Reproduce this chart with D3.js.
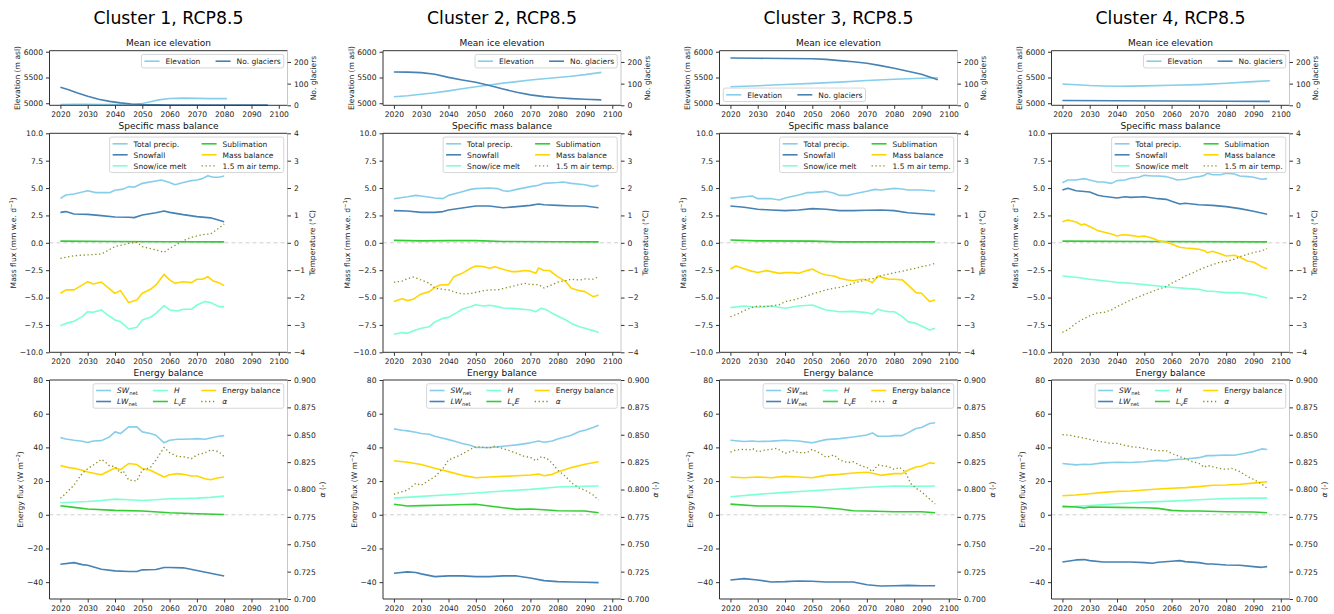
<!DOCTYPE html>
<html>
<head>
<meta charset="utf-8">
<title>Clusters RCP8.5</title>
<script src="https://d3js.org/d3.v7.min.js"></script>
<style>
  body { margin: 0; background: #fff; }
  text { font-family: "DejaVu Sans", sans-serif; }
</style>
</head>
<body>
<div id="chart"></div>
<script>
// ---- tick values ----
const xTicks = [2020, 2030, 2040, 2050, 2060, 2070, 2080, 2090, 2100];
const elevTicks = [5000, 5500, 6000];
const glacTicks = [0, 100, 200];
const massTicks = [-10, -7.5, -5, -2.5, 0, 2.5, 5, 7.5, 10];
const tempTicks = [-4, -3, -2, -1, 0, 1, 2, 3, 4];
const fluxTicks = [-40, -20, 0, 20, 40, 60, 80];
const albTicks = [0.7, 0.725, 0.75, 0.775, 0.8, 0.825, 0.85, 0.875, 0.9];

const titles = ["Cluster 1, RCP8.5", "Cluster 2, RCP8.5", "Cluster 3, RCP8.5", "Cluster 4, RCP8.5"];

// ---- cluster 1 ----
const c1_elev = [[2020,4975],[2025,4977],[2030,4977],[2035,4975],[2040,4974],[2045,4975],[2048,4980],[2050,4995],[2053,5030],[2056,5065],[2060,5092],[2065,5100],[2070,5095],[2075,5090],[2081,5090]];
const c1_glac = [[2020,83],[2023,72],[2026,58],[2030,42],[2034,28],[2038,18],[2042,11],[2046,6],[2050,3],[2055,2],[2060,1],[2070,1],[2080,1],[2096,1]];
const c1_precip = [[2020,4.06],[2022,4.37],[2025,4.46],[2030,4.76],[2033,4.58],[2035,4.58],[2038,4.58],[2040,4.8],[2043,4.9],[2045,5.13],[2047,5.07],[2050,5.43],[2052,5.52],[2055,5.65],[2057,5.74],[2060,5.5],[2062,5.3],[2065,5.5],[2068,5.68],[2070,5.74],[2072,5.86],[2074,6.13],[2076,5.98],[2078,5.98],[2080,6.1]];
const c1_snow = [[2020,2.78],[2022,2.85],[2025,2.63],[2030,2.6],[2035,2.48],[2040,2.36],[2045,2.33],[2047,2.3],[2050,2.54],[2055,2.75],[2058,2.9],[2060,2.78],[2065,2.57],[2070,2.39],[2075,2.28],[2080,1.93]];
const c1_melt = [[2020,-7.57],[2022,-7.36],[2025,-7.17],[2028,-6.74],[2030,-6.29],[2032,-6.35],[2035,-6.13],[2037,-6.53],[2040,-7.05],[2042,-7.2],[2045,-7.87],[2048,-7.72],[2050,-7.05],[2053,-6.8],[2055,-6.44],[2058,-5.74],[2060,-6.13],[2063,-6.23],[2065,-6.07],[2068,-6.07],[2070,-5.68],[2073,-5.37],[2075,-5.46],[2078,-5.83],[2080,-5.83]];
const c1_subl = [[2020,0.15],[2040,0.12],[2060,0.1],[2080,0.08]];
const c1_mb = [[2020,-4.61],[2022,-4.3],[2025,-4.3],[2027,-4.0],[2030,-3.55],[2032,-3.76],[2035,-3.58],[2037,-4.0],[2040,-4.61],[2042,-4.37],[2045,-5.46],[2048,-5.22],[2050,-4.61],[2053,-4.25],[2055,-3.85],[2058,-2.88],[2060,-3.39],[2062,-3.7],[2065,-3.55],[2068,-3.64],[2070,-3.33],[2072,-3.33],[2074,-3.09],[2076,-3.49],[2078,-3.64],[2080,-3.91]];
const c1_temp = [[2020,-0.57],[2025,-0.47],[2030,-0.44],[2035,-0.41],[2040,-0.14],[2045,-0.02],[2048,0.02],[2050,-0.14],[2055,-0.26],[2058,-0.35],[2060,-0.2],[2063,-0.04],[2065,0.08],[2068,0.2],[2070,0.25],[2073,0.31],[2075,0.32],[2078,0.53],[2080,0.69]];
const c1_sw = [[2020,45.8],[2022,45],[2025,44.2],[2028,43.6],[2030,42.9],[2032,43.8],[2035,44],[2038,46.2],[2040,49.2],[2042,48.2],[2045,52.2],[2048,52.2],[2050,49.2],[2053,48.2],[2055,47.2],[2058,42.7],[2060,44.2],[2063,44.8],[2065,44.8],[2068,45],[2070,45.2],[2073,44.8],[2075,45.6],[2078,46.6],[2080,47]];
const c1_lw = [[2020,-29.4],[2025,-28.4],[2028,-29.6],[2030,-30],[2035,-32.3],[2040,-33.3],[2045,-33.7],[2048,-33.7],[2050,-32.7],[2055,-32.5],[2058,-31.3],[2060,-31.3],[2065,-31.5],[2070,-33.1],[2075,-34.7],[2080,-36.3]];
const c1_h = [[2020,7.1],[2030,7.9],[2035,8.5],[2040,9.3],[2045,8.9],[2050,8.5],[2055,8.9],[2060,9.5],[2065,9.7],[2070,9.9],[2075,10.3],[2080,11.1]];
const c1_le = [[2020,5.4],[2025,4.4],[2030,3.4],[2040,2.6],[2050,2.2],[2060,1.2],[2070,0.6],[2080,0.2]];
const c1_eb = [[2020,29.2],[2023,28],[2025,27.6],[2028,26.4],[2030,25.4],[2033,24.4],[2035,23.8],[2037,25.4],[2040,27.8],[2042,26.8],[2045,30.4],[2048,29.8],[2050,27.4],[2053,26.4],[2055,24.8],[2058,22.4],[2060,23.8],[2063,24.4],[2065,24],[2068,23],[2070,23],[2073,21.4],[2075,20.8],[2078,22],[2080,22.4]];
const c1_alb = [[2020,0.792],[2022,0.7965],[2025,0.8041],[2028,0.8148],[2030,0.819],[2033,0.8239],[2035,0.8276],[2037,0.8239],[2038,0.8215],[2040,0.8209],[2042,0.815],[2043,0.817],[2045,0.8087],[2048,0.8078],[2050,0.8178],[2053,0.8202],[2055,0.827],[2058,0.8385],[2060,0.8336],[2063,0.83],[2065,0.83],[2068,0.8282],[2070,0.8315],[2073,0.8336],[2075,0.836],[2078,0.8345],[2080,0.83]];

// ---- cluster 2 ----
const c2_elev = [[2020,5125],[2025,5145],[2030,5175],[2035,5205],[2040,5240],[2045,5280],[2050,5320],[2055,5355],[2060,5390],[2065,5420],[2070,5450],[2075,5475],[2080,5500],[2085,5525],[2090,5555],[2096,5600]];
const c2_glac = [[2020,154],[2025,153],[2030,151],[2035,143],[2040,129],[2045,117],[2050,106],[2055,91],[2060,75],[2065,60],[2070,48],[2075,40],[2080,35],[2085,31],[2090,28],[2096,25]];
const c2_precip = [[2020,4.03],[2025,4.2],[2028,4.33],[2030,4.27],[2035,4.09],[2038,4.03],[2040,4.33],[2045,4.67],[2048,4.88],[2050,4.95],[2055,5.0],[2058,4.95],[2060,4.76],[2062,4.7],[2065,4.88],[2070,5.13],[2073,5.25],[2075,5.43],[2080,5.5],[2082,5.55],[2085,5.43],[2090,5.3],[2093,5.13],[2095,5.25]];
const c2_snow = [[2020,2.94],[2025,2.9],[2030,2.78],[2035,2.78],[2038,2.85],[2040,3.0],[2045,3.18],[2050,3.36],[2055,3.36],[2060,3.2],[2065,3.3],[2070,3.42],[2073,3.55],[2075,3.48],[2080,3.42],[2085,3.36],[2090,3.36],[2095,3.2]];
const c2_melt = [[2020,-8.36],[2023,-8.2],[2025,-8.27],[2028,-7.96],[2030,-7.81],[2033,-7.66],[2035,-7.23],[2038,-6.9],[2040,-6.81],[2043,-6.38],[2045,-6.07],[2048,-5.83],[2050,-5.65],[2053,-5.77],[2055,-5.71],[2058,-5.83],[2060,-5.95],[2065,-6.01],[2070,-6.13],[2072,-6.29],[2074,-5.98],[2076,-6.13],[2078,-6.44],[2080,-6.68],[2083,-7.05],[2085,-7.36],[2088,-7.66],[2090,-7.81],[2093,-8.02],[2095,-8.2]];
const c2_subl = [[2020,0.22],[2030,0.18],[2040,0.2],[2050,0.2],[2060,0.12],[2080,0.1],[2095,0.08]];
const c2_mb = [[2020,-5.37],[2023,-5.1],[2025,-5.28],[2027,-5.16],[2030,-4.67],[2033,-4.46],[2035,-4.06],[2037,-3.85],[2040,-3.82],[2042,-3.09],[2045,-2.79],[2048,-2.33],[2050,-2.12],[2053,-2.18],[2055,-2.33],[2057,-2.18],[2060,-2.42],[2063,-2.63],[2065,-2.63],[2068,-2.53],[2070,-2.59],[2072,-2.79],[2073,-2.3],[2075,-2.53],[2077,-2.53],[2080,-3.09],[2083,-3.55],[2085,-4.16],[2088,-4.37],[2090,-4.46],[2093,-4.92],[2095,-4.77]];
const c2_temp = [[2020,-1.44],[2023,-1.4],[2025,-1.31],[2027,-1.25],[2030,-1.36],[2033,-1.48],[2035,-1.66],[2038,-1.7],[2040,-1.72],[2043,-1.82],[2045,-1.87],[2048,-1.85],[2050,-1.81],[2053,-1.75],[2055,-1.72],[2058,-1.72],[2060,-1.67],[2063,-1.6],[2065,-1.55],[2068,-1.48],[2070,-1.52],[2073,-1.53],[2075,-1.65],[2078,-1.53],[2080,-1.44],[2083,-1.38],[2085,-1.33],[2088,-1.36],[2090,-1.32],[2093,-1.33],[2095,-1.24]];
const c2_sw = [[2020,51],[2023,50.2],[2025,49.8],[2028,49],[2030,48.2],[2033,47.8],[2035,46.6],[2038,45.4],[2040,44.6],[2043,43.3],[2045,42.3],[2048,41.3],[2050,39.9],[2055,39.9],[2058,40.3],[2060,40.7],[2065,41.5],[2070,42.7],[2073,43.8],[2075,43],[2078,43.8],[2080,45],[2085,47.2],[2088,49.4],[2090,50.2],[2093,51.8],[2095,53.2]];
const c2_lw = [[2020,-34.7],[2025,-33.9],[2028,-34.3],[2030,-35.1],[2035,-36.7],[2040,-36.3],[2045,-36.3],[2050,-36.7],[2055,-36.7],[2060,-36.3],[2065,-36.3],[2070,-37.5],[2075,-39.1],[2080,-39.7],[2085,-39.9],[2090,-40.1],[2095,-40.3]];
const c2_h = [[2020,9.9],[2030,10.9],[2040,11.9],[2050,12.9],[2060,14.1],[2070,15.1],[2080,16.5],[2090,16.9],[2095,17.1]];
const c2_le = [[2020,6.2],[2025,5.2],[2030,5.4],[2040,5.8],[2050,6.2],[2055,5.2],[2060,4.2],[2065,3.2],[2070,3.4],[2075,3.0],[2080,2.4],[2090,2.2],[2095,1.2]];
const c2_eb = [[2020,32.1],[2025,31.2],[2030,29.8],[2035,27.6],[2038,26.4],[2040,25.6],[2045,23.4],[2050,22],[2055,22.4],[2060,22.8],[2065,23.2],[2070,23.6],[2073,24.2],[2075,23.2],[2078,24],[2080,25.4],[2085,28],[2090,30],[2095,31.5]];
const c2_alb = [[2020,0.7956],[2023,0.798],[2025,0.7995],[2028,0.8056],[2030,0.8038],[2033,0.8087],[2035,0.8117],[2038,0.8193],[2040,0.827],[2043,0.83],[2045,0.8324],[2048,0.8367],[2050,0.8391],[2053,0.8385],[2055,0.8379],[2057,0.8397],[2060,0.8373],[2063,0.8349],[2065,0.833],[2068,0.83],[2070,0.8294],[2072,0.8263],[2074,0.83],[2076,0.8285],[2078,0.8239],[2080,0.8178],[2083,0.8117],[2085,0.8062],[2088,0.8011],[2090,0.7995],[2093,0.795],[2095,0.7904]];

// ---- cluster 3 ----
const c3_elev = [[2020,5320],[2030,5340],[2040,5365],[2050,5385],[2060,5410],[2070,5440],[2080,5465],[2090,5485],[2096,5495]];
const c3_glac = [[2020,218],[2030,217],[2040,216],[2050,215],[2055,212],[2060,206],[2065,201],[2070,194],[2075,183],[2080,171],[2085,157],[2090,143],[2096,118]];
const c3_precip = [[2020,4.06],[2025,4.21],[2028,4.27],[2030,4.03],[2035,4.03],[2038,3.91],[2040,4.09],[2045,4.37],[2048,4.58],[2050,4.58],[2055,4.7],[2058,4.52],[2060,4.33],[2063,4.33],[2065,4.46],[2070,4.7],[2073,4.88],[2075,4.82],[2080,4.97],[2083,4.91],[2085,4.82],[2090,4.82],[2095,4.73]];
const c3_snow = [[2020,3.36],[2025,3.24],[2030,3.06],[2035,3.0],[2040,2.94],[2045,3.0],[2050,3.12],[2055,3.06],[2060,2.94],[2065,2.94],[2070,2.97],[2075,3.0],[2080,2.94],[2085,2.75],[2090,2.66],[2095,2.57]];
const c3_melt = [[2020,-5.92],[2025,-5.77],[2030,-5.89],[2035,-5.77],[2040,-5.98],[2045,-5.77],[2050,-5.68],[2055,-6.13],[2060,-6.29],[2065,-6.26],[2070,-6.38],[2072,-6.5],[2074,-6.07],[2076,-6.2],[2078,-6.29],[2080,-6.29],[2083,-6.74],[2085,-7.2],[2088,-7.36],[2090,-7.6],[2093,-7.96],[2095,-7.81]];
const c3_subl = [[2020,0.25],[2030,0.18],[2050,0.15],[2060,0.08],[2095,0.08]];
const c3_mb = [[2020,-2.39],[2022,-2.12],[2025,-2.36],[2027,-2.54],[2030,-2.72],[2033,-2.54],[2035,-2.63],[2038,-2.79],[2040,-2.72],[2043,-2.72],[2045,-2.79],[2048,-2.54],[2050,-2.39],[2053,-2.79],[2055,-2.94],[2058,-3.03],[2060,-3.24],[2063,-3.39],[2065,-3.46],[2068,-3.33],[2070,-3.39],[2072,-3.64],[2074,-3.03],[2076,-3.18],[2078,-3.33],[2080,-3.33],[2083,-3.39],[2085,-3.85],[2088,-4.55],[2090,-4.61],[2093,-5.37],[2095,-5.22]];
const c3_temp = [[2020,-2.7],[2023,-2.58],[2025,-2.48],[2028,-2.36],[2030,-2.31],[2033,-2.33],[2035,-2.31],[2038,-2.26],[2040,-2.15],[2043,-2.09],[2045,-2.03],[2048,-1.94],[2050,-1.87],[2053,-1.78],[2055,-1.72],[2058,-1.66],[2060,-1.63],[2063,-1.55],[2065,-1.48],[2068,-1.4],[2070,-1.33],[2073,-1.3],[2075,-1.21],[2078,-1.14],[2080,-1.09],[2083,-1.04],[2085,-0.99],[2088,-0.93],[2090,-0.87],[2093,-0.81],[2095,-0.75]];
const c3_sw = [[2020,44.2],[2025,43.5],[2028,43.8],[2030,43.5],[2035,43.7],[2040,44.2],[2045,43.8],[2050,42.7],[2055,44.6],[2060,45.2],[2065,46.2],[2070,47.4],[2072,48.6],[2074,46.6],[2078,46.6],[2080,47],[2083,47],[2085,48.6],[2088,51.2],[2090,51.8],[2093,54.2],[2095,54.6]];
const c3_lw = [[2020,-38.7],[2025,-37.9],[2030,-38.7],[2035,-39.9],[2040,-39.7],[2045,-39.3],[2050,-39.5],[2055,-39.9],[2060,-39.9],[2065,-39.9],[2070,-41.5],[2075,-42.3],[2080,-42.1],[2085,-41.9],[2090,-42.1],[2095,-42.1]];
const c3_h = [[2020,10.7],[2030,12.1],[2040,13.3],[2050,14.3],[2060,15.3],[2070,16.3],[2080,17.1],[2090,16.9],[2095,17.1]];
const c3_le = [[2020,6.3],[2030,5.2],[2040,5.2],[2050,4.8],[2055,4.2],[2060,3.4],[2065,2.4],[2070,2.2],[2080,1.8],[2090,1.8],[2095,1.2]];
const c3_eb = [[2020,22.4],[2025,22],[2030,22.4],[2035,22],[2040,22.8],[2045,22.4],[2050,22],[2055,23.4],[2060,24],[2065,24.8],[2070,25.2],[2073,24.4],[2075,23.4],[2080,24.4],[2083,24.4],[2085,26.4],[2088,28.4],[2090,28.8],[2093,30.8],[2095,30.4]];
const c3_alb = [[2020,0.8342],[2022,0.8361],[2025,0.8367],[2027,0.8361],[2028,0.8376],[2030,0.8345],[2033,0.8361],[2035,0.8367],[2037,0.8376],[2040,0.833],[2043,0.8355],[2045,0.8336],[2048,0.8336],[2050,0.8367],[2053,0.833],[2055,0.8294],[2058,0.8315],[2060,0.827],[2063,0.8245],[2065,0.8254],[2068,0.8215],[2070,0.8202],[2072,0.8163],[2074,0.8224],[2076,0.8215],[2078,0.8209],[2080,0.8184],[2082,0.8202],[2084,0.8163],[2086,0.8056],[2088,0.8011],[2090,0.798],[2092,0.7935],[2095,0.7868]];

// ---- cluster 4 ----
const c4_elev = [[2020,5375],[2025,5360],[2030,5345],[2035,5336],[2040,5331],[2045,5332],[2050,5337],[2060,5348],[2070,5362],[2080,5387],[2090,5419],[2096,5437]];
const c4_glac = [[2020,22],[2040,21],[2060,20],[2080,19],[2096,18]];
const c4_precip = [[2020,5.49],[2022,5.74],[2025,5.74],[2028,5.86],[2030,5.74],[2033,5.55],[2035,5.55],[2038,5.43],[2040,5.68],[2043,5.74],[2045,5.89],[2048,5.98],[2050,6.16],[2053,6.1],[2055,6.1],[2058,6.04],[2060,5.92],[2062,5.74],[2065,5.8],[2068,5.98],[2070,6.04],[2072,6.16],[2073,6.35],[2075,6.22],[2078,6.22],[2080,6.35],[2083,6.28],[2085,6.1],[2088,6.04],[2090,5.98],[2093,5.8],[2095,5.86]];
const c4_snow = [[2020,4.82],[2022,4.98],[2025,4.76],[2030,4.64],[2033,4.34],[2035,4.25],[2040,4.09],[2043,4.21],[2045,4.15],[2050,4.21],[2055,4.03],[2058,3.97],[2060,3.79],[2063,3.55],[2065,3.61],[2070,3.48],[2075,3.42],[2080,3.3],[2085,3.12],[2090,2.88],[2095,2.6]];
const c4_melt = [[2020,-3.03],[2025,-3.15],[2030,-3.33],[2035,-3.46],[2040,-3.61],[2045,-3.7],[2050,-3.82],[2055,-3.94],[2060,-4.06],[2065,-4.16],[2070,-4.25],[2073,-4.43],[2075,-4.43],[2080,-4.55],[2085,-4.55],[2090,-4.73],[2095,-5.04]];
const c4_subl = [[2020,0.15],[2050,0.12],[2095,0.08]];
const c4_mb = [[2020,1.93],[2022,2.08],[2025,1.9],[2027,1.63],[2028,1.72],[2030,1.48],[2033,1.11],[2035,0.99],[2038,0.81],[2040,0.62],[2042,0.74],[2045,0.68],[2048,0.56],[2050,0.62],[2053,0.41],[2055,0.2],[2058,0.08],[2060,-0.11],[2063,-0.41],[2065,-0.47],[2068,-0.53],[2070,-0.59],[2072,-0.72],[2073,-0.9],[2075,-0.78],[2078,-1.02],[2080,-1.2],[2083,-1.14],[2085,-1.32],[2088,-1.69],[2090,-1.75],[2093,-2.18],[2095,-2.36]];
const c4_temp = [[2020,-3.27],[2022,-3.18],[2025,-2.94],[2028,-2.76],[2030,-2.67],[2033,-2.55],[2035,-2.55],[2038,-2.45],[2040,-2.33],[2043,-2.19],[2045,-2.09],[2048,-1.97],[2050,-1.89],[2053,-1.78],[2055,-1.7],[2058,-1.6],[2060,-1.48],[2063,-1.33],[2065,-1.21],[2068,-1.09],[2070,-0.99],[2073,-0.87],[2075,-0.8],[2078,-0.7],[2080,-0.68],[2083,-0.6],[2085,-0.51],[2088,-0.41],[2090,-0.36],[2093,-0.29],[2095,-0.21]];
const c4_sw = [[2020,30.4],[2025,29.6],[2028,30],[2030,29.8],[2035,30.8],[2040,31.2],[2045,31],[2050,31.5],[2055,32.3],[2058,31.9],[2060,32.7],[2065,33.1],[2070,33.9],[2073,35.1],[2075,35.1],[2080,35.5],[2083,35.3],[2085,35.9],[2090,37.5],[2093,39.1],[2095,38.7]];
const c4_lw = [[2020,-28],[2025,-26.8],[2028,-26.6],[2030,-27.2],[2035,-28],[2040,-28],[2045,-28],[2050,-28.4],[2053,-28.8],[2055,-28.2],[2060,-27.6],[2063,-27.2],[2065,-27.8],[2070,-28.4],[2073,-29.2],[2075,-29.2],[2080,-29.8],[2085,-30],[2090,-30.8],[2093,-31.2],[2095,-30.8]];
const c4_h = [[2020,4.6],[2030,5.4],[2040,6.5],[2050,7.5],[2060,8.1],[2070,8.9],[2080,9.7],[2090,9.9],[2095,9.9]];
const c4_le = [[2020,5.0],[2025,4.6],[2028,4.0],[2030,4.6],[2040,4.4],[2050,4.2],[2055,3.8],[2060,2.6],[2065,2.2],[2070,2.2],[2080,1.8],[2090,1.6],[2095,1.2]];
const c4_eb = [[2020,11.3],[2025,11.7],[2030,12.5],[2035,13.3],[2040,13.9],[2045,14.1],[2050,14.7],[2055,15.3],[2060,15.7],[2065,16.1],[2070,16.7],[2075,17.5],[2080,17.7],[2085,18.1],[2090,18.8],[2095,19.6]];
const c4_alb = [[2020,0.8501],[2023,0.8495],[2025,0.8482],[2028,0.847],[2030,0.8458],[2033,0.844],[2035,0.8434],[2038,0.8421],[2040,0.8421],[2043,0.8403],[2045,0.8391],[2048,0.8385],[2050,0.8376],[2053,0.8361],[2055,0.8355],[2058,0.8355],[2060,0.833],[2063,0.83],[2065,0.8282],[2068,0.8251],[2070,0.8239],[2072,0.8202],[2073,0.822],[2075,0.8209],[2078,0.819],[2080,0.8184],[2082,0.8193],[2085,0.8163],[2088,0.8117],[2090,0.8093],[2093,0.805],[2095,0.8011]];

// ---- colours ----
const cLight = "#87ceeb", cSteel = "#4682b4", cAqua = "#7fffd4", cLime = "#32cd32", cGold = "#ffd700", cOlive = "#8c8c22";

const clusters = [
  {elev: c1_elev, glac: c1_glac, precip: c1_precip, snow: c1_snow, melt: c1_melt, subl: c1_subl, mb: c1_mb, temp: c1_temp, sw: c1_sw, lw: c1_lw, h: c1_h, le: c1_le, eb: c1_eb, alb: c1_alb, topLegend: "ur"},
  {elev: c2_elev, glac: c2_glac, precip: c2_precip, snow: c2_snow, melt: c2_melt, subl: c2_subl, mb: c2_mb, temp: c2_temp, sw: c2_sw, lw: c2_lw, h: c2_h, le: c2_le, eb: c2_eb, alb: c2_alb, topLegend: "ur"},
  {elev: c3_elev, glac: c3_glac, precip: c3_precip, snow: c3_snow, melt: c3_melt, subl: c3_subl, mb: c3_mb, temp: c3_temp, sw: c3_sw, lw: c3_lw, h: c3_h, le: c3_le, eb: c3_eb, alb: c3_alb, topLegend: "ll"},
  {elev: c4_elev, glac: c4_glac, precip: c4_precip, snow: c4_snow, melt: c4_melt, subl: c4_subl, mb: c4_mb, temp: c4_temp, sw: c4_sw, lw: c4_lw, h: c4_h, le: c4_le, eb: c4_eb, alb: c4_alb, topLegend: "ur"}
];

// layout
const colLeft = [49.5, 383, 719.5, 1051.5];
const pw = 238;
const rowBox = [{top: 50.7, bottom: 105.3}, {top: 133.3, bottom: 352.3}, {top: 380, bottom: 599}];
const fsTick = 7.6, fsLeg = 7.5, fsTitle = 9;

const svg = d3.select("#chart").append("svg")
    .attr("width", 1334)
    .attr("height", 614);

const x = d3.scaleLinear().domain([2016, 2103.2]).range([0, pw]);

// text with italic / sub / superscript pieces
function rich(t, parts, fs) {
    let shift = 0;
    parts.forEach(function(p) {
        let s = 0;
        const sp = t.append("tspan").text(p.t);
        if (p.i) sp.style("font-style", "italic");
        if (p.sub) { s = fs * 0.3; sp.attr("font-size", fs * 0.7); }
        if (p.sup) { s = -fs * 0.4; sp.attr("font-size", fs * 0.7); }
        if (s - shift !== 0) sp.attr("dy", s - shift);
        shift = s;
    });
}

function drawLine(g, data, ys, color, dotted) {
    const line = d3.line().x(d => x(d[0])).y(d => ys(d[1]));
    const p = g.append("path")
        .datum(data)
        .attr("d", line)
        .attr("fill", "none")
        .attr("stroke", color)
        .attr("stroke-linejoin", "round");
    if (dotted) p.attr("stroke-width", 1.3).attr("stroke-dasharray", "1.3,2.6");
    else p.attr("stroke-width", 1.6);
}

function legend(g, entries, ncol, loc, w, h) {
    const hl = 15, hp = 6, cs = 15, bp = 3, rowH = 11;
    const nrow = Math.ceil(entries.length / ncol);
    const lg = g.append("g");
    const box = lg.append("rect");
    const colW = [];
    const items = entries.map(function(e, i) {
        const c = Math.floor(i / nrow), r = i % nrow;
        const it = lg.append("g");
        const ln = it.append("line")
            .attr("x1", 0).attr("x2", hl)
            .attr("stroke", e.color);
        if (e.dotted) ln.attr("stroke-width", 1.3).attr("stroke-dasharray", "1.3,2.6");
        else ln.attr("stroke-width", 1.6);
        const t = it.append("text")
            .attr("x", hl + hp)
            .attr("y", fsLeg * 0.36)
            .attr("font-size", fsLeg)
            .attr("fill", "#222");
        rich(t, e.parts, fsLeg);
        const tw = t.node().getBBox().width;
        colW[c] = Math.max(colW[c] || 0, hl + hp + tw);
        return {it: it, c: c, r: r};
    });
    const colX = [];
    let acc = bp;
    colW.forEach(function(cw, c) { colX[c] = acc; acc += cw + cs; });
    const W = acc - cs + bp;
    const H = 2 * bp + nrow * rowH - 3.5;
    items.forEach(function(d) {
        d.it.attr("transform", "translate(" + colX[d.c] + "," + (bp + 3.75 + d.r * rowH) + ")");
    });
    box.attr("width", W).attr("height", H)
        .attr("rx", 2)
        .attr("fill", "#fff").attr("fill-opacity", 0.8)
        .attr("stroke", "#cccccc").attr("stroke-width", 0.8);
    const lx = loc === "ll" ? 3.75 : w - 3.75 - W;
    const ly = loc === "ll" ? h - 3.75 - H : 3.75;
    lg.attr("transform", "translate(" + lx + "," + ly + ")");
}

function styleAxis(a) {
    a.select(".domain").remove();
    a.selectAll(".tick line").attr("stroke", "#333");
    a.selectAll(".tick text")
        .attr("font-size", fsTick)
        .attr("fill", "#222")
        .style("font-family", "DejaVu Sans, sans-serif");
}

function panel(col, row, cfg) {
    const left = colLeft[col];
    const top = rowBox[row].top;
    const h = rowBox[row].bottom - top;
    const g = svg.append("g").attr("transform", "translate(" + left + "," + top + ")");
    const y = d3.scaleLinear().domain(cfg.yDom).range([h, 0]);
    const y2 = d3.scaleLinear().domain(cfg.y2Dom).range([h, 0]);

    if (cfg.zero) {
        g.append("line")
            .attr("x1", 0).attr("x2", pw)
            .attr("y1", y(0)).attr("y2", y(0))
            .attr("stroke", "#cfcfcf")
            .attr("stroke-width", 1)
            .attr("stroke-dasharray", "4,3");
    }
    cfg.left.forEach(s => drawLine(g, s.data, y, s.color, s.dotted));
    cfg.right.forEach(s => drawLine(g, s.data, y2, s.color, s.dotted));

    // spines
    g.append("line").attr("x1", 0).attr("x2", 0).attr("y1", 0).attr("y2", h).attr("stroke", "#333");
    g.append("line").attr("x1", 0).attr("x2", pw).attr("y1", 0).attr("y2", 0).attr("stroke", "#333");
    g.append("line").attr("x1", 0).attr("x2", pw).attr("y1", h).attr("y2", h).attr("stroke", "#333");
    g.append("line").attr("x1", pw).attr("x2", pw).attr("y1", 0).attr("y2", h).attr("stroke", "#c8c8c8");

    const ax = g.append("g").attr("transform", "translate(0," + h + ")")
        .call(d3.axisBottom(x).tickValues(xTicks).tickFormat(d3.format("d")).tickSizeOuter(0).tickSize(3.5).tickPadding(3));
    styleAxis(ax);
    const ay = g.append("g")
        .call(d3.axisLeft(y).tickValues(cfg.yTicks).tickFormat(cfg.yFmt).tickSizeOuter(0).tickSize(3.5).tickPadding(3));
    styleAxis(ay);
    const ay2 = g.append("g").attr("transform", "translate(" + pw + ",0)")
        .call(d3.axisRight(y2).tickValues(cfg.y2Ticks).tickFormat(cfg.y2Fmt).tickSizeOuter(0).tickSize(3.5).tickPadding(3));
    styleAxis(ay2);

    g.append("text")
        .attr("x", pw / 2).attr("y", -4.5)
        .attr("text-anchor", "middle")
        .attr("font-size", fsTitle)
        .attr("fill", "#111")
        .text(cfg.title);

    const tl = g.append("text")
        .attr("transform", "translate(" + (-cfg.offL + 2.7) + "," + (h / 2) + ") rotate(-90)")
        .attr("text-anchor", "middle")
        .attr("font-size", fsTick)
        .attr("fill", "#222");
    rich(tl, cfg.labelL, fsTick);
    const tr = g.append("text")
        .attr("transform", "translate(" + (pw + cfg.offR + 2.7) + "," + (h / 2) + ") rotate(-90)")
        .attr("text-anchor", "middle")
        .attr("font-size", fsTick)
        .attr("fill", "#222");
    rich(tr, cfg.labelR, fsTick);

    legend(g, cfg.legend, cfg.ncol, cfg.loc, pw, h);
}

clusters.forEach(function(c, i) {
    svg.append("text")
        .attr("x", colLeft[i] + pw / 2)
        .attr("y", 24)
        .attr("text-anchor", "middle")
        .attr("font-size", 17.3)
        .attr("fill", "#000")
        .text(titles[i]);

    panel(i, 0, {
        title: "Mean ice elevation",
        yDom: [4960, 6020], y2Dom: [0, 252],
        yTicks: elevTicks, y2Ticks: glacTicks,
        yFmt: d3.format("d"), y2Fmt: d3.format("d"),
        left: [{data: c.elev, color: cLight}],
        right: [{data: c.glac, color: cSteel}],
        offL: 32, offR: 26,
        labelL: [{t: "Elevation (m asl)"}],
        labelR: [{t: "No. glaciers"}],
        legend: [
            {parts: [{t: "Elevation"}], color: cLight},
            {parts: [{t: "No. glaciers"}], color: cSteel}
        ],
        ncol: 2, loc: c.topLegend
    });

    panel(i, 1, {
        title: "Specific mass balance",
        zero: true,
        yDom: [-10, 10], y2Dom: [-4, 4],
        yTicks: massTicks, y2Ticks: tempTicks,
        yFmt: d3.format(".1f"), y2Fmt: d3.format("d"),
        left: [
            {data: c.precip, color: cLight},
            {data: c.snow, color: cSteel},
            {data: c.melt, color: cAqua},
            {data: c.subl, color: cLime},
            {data: c.mb, color: cGold}
        ],
        right: [{data: c.temp, color: cOlive, dotted: true}],
        offL: 36, offR: 24.5,
        labelL: [{t: "Mass flux (mm w.e. d"}, {t: "−1", sup: true}, {t: ")"}],
        labelR: [{t: "Temperature (°C)"}],
        legend: [
            {parts: [{t: "Total precip."}], color: cLight},
            {parts: [{t: "Snowfall"}], color: cSteel},
            {parts: [{t: "Snow/ice melt"}], color: cAqua},
            {parts: [{t: "Sublimation"}], color: cLime},
            {parts: [{t: "Mass balance"}], color: cGold},
            {parts: [{t: "1.5 m air temp."}], color: cOlive, dotted: true}
        ],
        ncol: 2, loc: "ur"
    });

    panel(i, 2, {
        title: "Energy balance",
        zero: true,
        yDom: [-50, 80], y2Dom: [0.7, 0.9],
        yTicks: fluxTicks, y2Ticks: albTicks,
        yFmt: d3.format("d"), y2Fmt: d3.format(".3f"),
        left: [
            {data: c.sw, color: cLight},
            {data: c.lw, color: cSteel},
            {data: c.h, color: cAqua},
            {data: c.le, color: cLime},
            {data: c.eb, color: cGold}
        ],
        right: [{data: c.alb, color: cOlive, dotted: true}],
        offL: 29, offR: 34.5,
        labelL: [{t: "Energy flux (W m"}, {t: "−2", sup: true}, {t: ")"}],
        labelR: [{t: "α", i: true}, {t: " (-)"}],
        legend: [
            {parts: [{t: "SW", i: true}, {t: "net", sub: true}], color: cLight},
            {parts: [{t: "LW", i: true}, {t: "net", sub: true}], color: cSteel},
            {parts: [{t: "H", i: true}], color: cAqua},
            {parts: [{t: "L", i: true}, {t: "v", sub: true}, {t: "E", i: true}], color: cLime},
            {parts: [{t: "Energy balance"}], color: cGold},
            {parts: [{t: "α", i: true}], color: cOlive, dotted: true}
        ],
        ncol: 3, loc: "ur"
    });
});
</script>
</body>
</html>
